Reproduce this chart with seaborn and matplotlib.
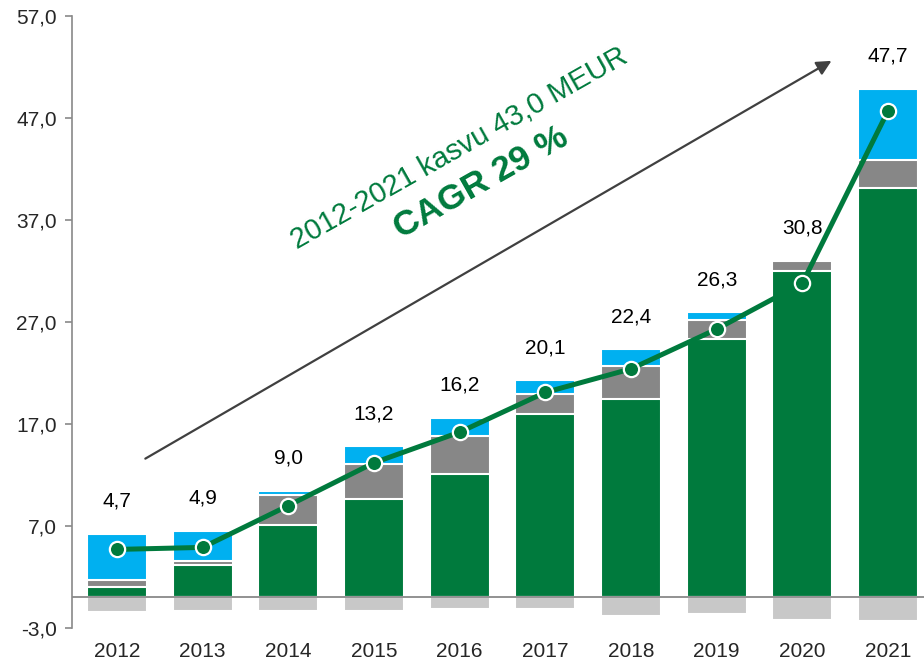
import numpy as np
import matplotlib
matplotlib.use('Agg')
import matplotlib.pyplot as plt
from matplotlib.ticker import FuncFormatter
import seaborn as sns

sns.set_style('white')
plt.rcParams['font.family'] = ['Liberation Sans', 'DejaVu Sans']

YEARS = ['2012', '2013', '2014', '2015', '2016', '2017', '2018', '2019', '2020', '2021']
GREEN_PART = [0.98, 3.14, 7.13, 9.69, 12.1, 17.97, 19.46, 25.29, 31.98, 40.15]
GRAY_PART = [0.69, 0.39, 2.90, 3.41, 3.70, 2.01, 3.19, 1.94, 1.02, 2.74]
BLUE_PART = [4.57, 3.01, 0.43, 1.70, 1.78, 1.29, 1.66, 0.71, 0.0, 6.98]
NEG_PART = [-1.44, -1.37, -1.34, -1.34, -1.18, -1.11, -1.86, -1.64, -2.25, -2.32]
LINE_VALUES = [4.7, 4.9, 9.0, 13.2, 16.2, 20.1, 22.4, 26.3, 30.8, 47.7]

GREEN = '#007A3D'
GRAY = '#878787'
BLUE = '#00B0F0'
LIGHT = '#C8C8C8'
AXIS = '#898989'

fig = plt.figure(figsize=(9.24, 6.62), dpi=100)
ax = fig.add_axes([0.078, 0.0514, 0.922, 0.9245])

green = np.array(GREEN_PART)
mid = green + np.array(GRAY_PART)
total = mid + np.array(BLUE_PART)

# stacked look: draw the tallest layer first, then overlay the lower ones
bar_kw = dict(width=0.7, edgecolor='white', linewidth=1.5, saturation=1,
              errorbar=None, ax=ax)
sns.barplot(x=YEARS, y=total, color=BLUE, **bar_kw)
sns.barplot(x=YEARS, y=mid, color=GRAY, **bar_kw)
sns.barplot(x=YEARS, y=green, color=GREEN, **bar_kw)
sns.barplot(x=YEARS, y=NEG_PART, color=LIGHT, **bar_kw)

ax.axhline(0, color=AXIS, lw=1.3, zorder=3)

sns.lineplot(x=np.arange(len(YEARS)), y=LINE_VALUES, color=GREEN, lw=3.6,
             marker='o', markersize=11, markerfacecolor=GREEN,
             markeredgecolor='white', markeredgewidth=1.6, zorder=5, ax=ax)

for i, v in enumerate(LINE_VALUES):
    ax.text(i, total[i] + 3.2, f'{v:.1f}'.replace('.', ','), ha='center',
            va='center', fontsize=15, color='black')

ax.annotate('', xy=(8.34, 52.6), xytext=(0.33, 13.6),
            arrowprops=dict(arrowstyle='-|>', color='#404040', lw=1.6,
                            mutation_scale=22, shrinkA=0, shrinkB=0))
ax.text(3.99, 44.0, '2012-2021 kasvu 43,0 MEUR', rotation=29.5,
        rotation_mode='anchor', ha='center', va='center', fontsize=21,
        color=GREEN)
ax.text(4.25, 40.6, 'CAGR 29 %', rotation=29.5, rotation_mode='anchor',
        ha='center', va='center', fontsize=25.5, fontweight='bold', color=GREEN)

ax.set_xlim(-0.525, 9.42)
ax.set_ylim(-3, 57)
ax.set_yticks(np.arange(-3, 58, 10))
ax.yaxis.set_major_formatter(FuncFormatter(lambda v, p: f'{v:.1f}'.replace('.', ',')))
ax.set_xlabel('')
ax.set_ylabel('')
ax.tick_params(axis='y', length=5, width=1.2, color=AXIS, labelsize=15, pad=6,
               left=True)
ax.tick_params(axis='x', length=0, labelsize=15, pad=10)

for side in ['top', 'right', 'bottom']:
    ax.spines[side].set_visible(False)
ax.spines['left'].set_color(AXIS)
ax.spines['left'].set_linewidth(1.2)

plt.savefig('out.png', dpi=100)
plt.close()
